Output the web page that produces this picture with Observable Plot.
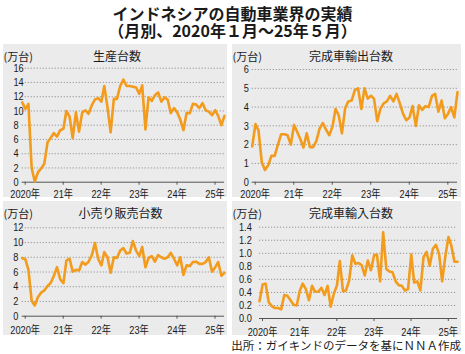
<!DOCTYPE html>
<html><head><meta charset="utf-8">
<script src="https://cdn.jsdelivr.net/npm/d3@7"></script>
<script src="https://cdn.jsdelivr.net/npm/@observablehq/plot@0.6"></script>
<style>
html,body{margin:0;padding:0;background:#fff;}
#root{position:relative;width:465px;height:354px;overflow:hidden;font-family:"Noto Sans CJK JP",sans-serif;color:#1a1a1a;}
.t{position:absolute;white-space:nowrap;line-height:1;}
.c{transform:translate(-50%,-50%);}
.v{transform:translate(0,-50%);}
.panel{position:absolute;background:#ebebeb;}
.panel svg{display:block;}
</style></head><body><div id="root"></div>
<script>
// ---- data (万台, monthly Jan 2020 – May 2025) ----
const yearLabels = ["2020年","21年","22年","23年","24年","25年"];
const production = [
  11.2, 10.3, 11.0, 2.0, 0.1, 1.4, 1.9, 2.6, 5.6, 6.2, 6.9, 6.4,
  7.3, 7.5, 10.0, 9.2, 6.2, 9.8, 7.1, 9.8, 10.1, 9.6, 10.8, 11.6,
  11.8, 11.3, 13.5, 10.5, 7.0, 11.7, 11.7, 13.5, 14.4, 13.5, 13.5, 13.4,
  13.3, 12.4, 13.6, 7.4, 11.9, 11.4, 12.2, 12.6, 11.3, 11.9, 11.6, 9.7,
  10.4, 9.8, 8.8, 7.3, 9.7, 9.7, 11.0, 10.9, 10.4, 11.1, 10.1, 9.9,
  9.4, 10.1, 9.3, 8.0, 9.3
];
const exportsCBU = [
  1.9, 3.1, 2.75, 1.05, 0.65, 0.9, 1.4, 1.4, 2.0, 2.55, 2.55, 2.5,
  2.0, 3.05, 2.7, 2.3, 1.85, 2.6, 1.87, 1.87, 2.2, 2.85, 3.15, 2.8,
  2.5, 2.97, 3.9, 3.55, 2.6, 3.95, 4.3, 4.35, 4.9, 5.0, 3.9, 5.0,
  4.45, 4.6, 4.45, 3.25, 3.9, 4.2, 4.3, 4.6, 4.3, 4.7, 4.2, 3.65,
  3.3, 3.45, 4.05, 3.0, 4.1, 3.85, 4.05, 4.0, 4.6, 4.7, 3.75, 4.35,
  3.4, 3.65, 4.0, 3.45, 4.8
];
const retail = [
  7.9, 7.7, 6.3, 2.1, 1.45, 2.6, 3.2, 3.5, 4.1, 4.5, 5.5, 6.65,
  5.0, 4.5, 7.55, 7.8, 6.05, 6.3, 6.2, 7.35, 7.0, 7.4, 8.25, 9.95,
  7.8, 6.9, 8.7, 8.0, 5.9, 8.0, 7.9, 8.9, 9.25, 8.5, 8.6, 10.2,
  8.9, 8.15, 9.4, 6.65, 7.9, 8.15, 7.4, 8.3, 8.0, 7.8, 8.0, 8.6,
  7.8, 6.9, 8.0, 5.6, 6.9, 6.8, 7.35, 7.4, 7.1, 7.1, 7.35, 8.0,
  6.05, 6.65, 7.35, 5.5, 5.9
];
const importsCBU = [
  0.265, 0.52, 0.535, 0.25, 0.19, 0.16, 0.16, 0.14, 0.36, 0.35, 0.28, 0.21,
  0.2, 0.43, 0.535, 0.45, 0.28, 0.5, 0.41, 0.41, 0.47, 0.36, 0.5, 0.18,
  0.38, 0.51, 0.88, 0.42, 0.43, 0.585, 0.97, 0.84, 0.85, 0.82, 0.66, 0.89,
  0.74, 0.97, 0.98, 0.57, 1.32, 0.76, 0.72, 0.71, 0.57, 0.51, 0.5, 0.43,
  0.45, 0.98, 0.55, 0.57, 0.43, 0.94, 1.02, 0.81, 1.07, 1.13, 0.99, 0.57,
  0.95, 1.25, 1.12, 0.87, 0.87
];
const prodTicks = [0,2,4,6,8,10,12,14,16];
const expTicks = [0,1,2,3,4,5,6];
const retailTicks = [0,2,4,6,8,10,12];
const impTicks = [0,0.2,0.4,0.6,0.8,1.0,1.2,1.4];
const panelTitles = ["生産台数","完成車輸出台数","小売り販売台数","完成車輸入台数"];
const unitLabel = "(万台)";
const titleText = "インドネシアの自動車業界の実績";
const subtitleText = "（月別、2020年１月～25年５月）";
const captionText = "出所：ガイキンドのデータを基にＮＮＡ作成";

// ---- build ----
const months = d3.utcMonth.range(new Date(Date.UTC(2020,0,1)), new Date(Date.UTC(2025,5,1)));
const yearTicks = yearLabels.map((_, i) => new Date(Date.UTC(2020 + i, 0, 1)));
const root = document.getElementById("root");
const tickFont = '"Liberation Sans","Noto Sans CJK JP",sans-serif';

function addText(txt, css, cls) {
  const d = document.createElement("div");
  d.className = "t " + (cls || "");
  d.textContent = txt;
  Object.assign(d.style, css);
  root.appendChild(d);
  return d;
}

// narrow the axis tick labels (condensed look) once they are in the page
function condense(svg, k) {
  svg.querySelectorAll('g[aria-label$="tick label"] text').forEach(t => {
    const L = t.getComputedTextLength();
    if (L > 0) {
      t.setAttribute("textLength", (L * k).toFixed(2));
      t.setAttribute("lengthAdjust", "spacingAndGlyphs");
    }
  });
}

addText(titleText, {left:"0px", width:"465px", textAlign:"center", top:"4.5px", fontSize:"16px", fontWeight:"700"});
addText(subtitleText, {left:"0px", width:"465px", textAlign:"center", top:"21.5px", fontSize:"16px", fontWeight:"700"});
addText(captionText, {right:"4px", top:"340px", fontSize:"11.5px"});

const panels = [
  {values: production, ticks: prodTicks, yMax:16, left:3, top:44, w:224, h:153, ml:18.7, mr:3, mt:23.7, mb:15.3, pad:4.5, labelX:13, fmt: d => d, tx:117, ty:55.8},
  {values: exportsCBU, ticks: expTicks, yMax:6, left:232, top:44, w:229, h:153, ml:19.7, mr:4, mt:25, mb:15.3, pad:4.5, labelX:243.3, fmt: d => d, tx:351, ty:55.5},
  {values: retail, ticks: retailTicks, yMax:12, left:3, top:201, w:224, h:134, ml:18.7, mr:3, mt:26.3, mb:19.3, pad:6.5, labelX:12.7, fmt: d => d, tx:120.5, ty:213},
  {values: importsCBU, ticks: impTicks, yMax:1.4, left:232, top:201, w:229, h:134, ml:27, mr:4, mt:25.7, mb:17, pad:6.5, labelX:238.5, fmt: d => d.toFixed(1), tx:351, ty:213}
];

panels.forEach((p, k) => {
  const box = document.createElement("div");
  box.className = "panel";
  Object.assign(box.style, {left:p.left+"px", top:p.top+"px", width:p.w+"px", height:p.h+"px"});
  root.appendChild(box);
  const rows = months.map((d, i) => ({date: d, value: p.values[i]}));
  const svg = Plot.plot({
    width: p.w, height: p.h,
    marginLeft: p.ml, marginRight: p.mr, marginTop: p.mt, marginBottom: p.mb,
    style: {background: "transparent", fontFamily: tickFont, fontSize: "12px", color: "#1a1a1a", overflow: "visible"},
    x: {type: "utc", domain: [months[0], months[months.length - 1]], label: null},
    y: {domain: [0, p.yMax], label: null},
    marks: [
      Plot.gridY(p.ticks.filter(v => v > 0), {stroke: "#8c8c8c", strokeOpacity: 1, strokeWidth: 0.9, strokeDasharray: "1.2,1.8"}),
      Plot.ruleY([0], {stroke: "#555", strokeWidth: 1}),
      Plot.axisX(yearTicks, {tickSize: 3, tickPadding: p.pad, stroke: "#555", fill: "#1a1a1a", fontSize: 11.5, dx: 3, label: null,
        tickFormat: d => yearLabels[yearTicks.findIndex(t => +t === +d)]}),
      Plot.axisY(p.ticks, {tickSize: 0, tickPadding: 0, textAnchor: "start", dx: p.labelX - p.left - p.ml, fill: "#1a1a1a", fontSize: 11.5, label: null, tickFormat: p.fmt}),
      Plot.line(rows, {x: "date", y: "value", stroke: "#f29b1d", strokeWidth: 2.6})
    ]
  });
  box.appendChild(svg);
  condense(svg, 0.8);
  addText(unitLabel, {left: (p.left + 0.5) + "px", top: p.ty + "px", fontSize: "11px"}, "v");
  addText(panelTitles[k], {left: p.tx + "px", top: p.ty + "px", fontSize: "12px"}, "c");
});
</script></body></html>
